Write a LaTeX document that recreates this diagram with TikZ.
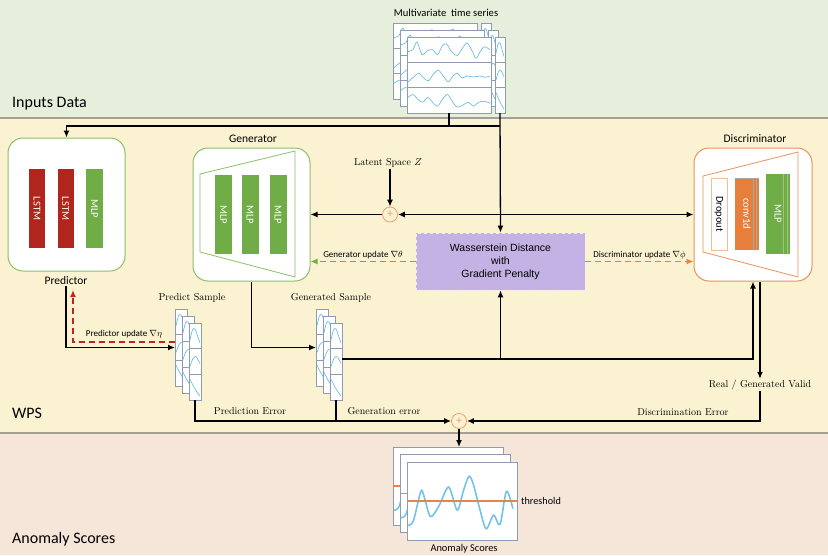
\documentclass[tikz,border=0pt]{standalone}
\usepackage{fontspec}
\newfontfamily\calib{Carlito}
\newfontfamily\helv{Liberation Sans}
\usetikzlibrary{arrows.meta,calc}
\definecolor{bandG}{HTML}{E6EFDC}
\definecolor{bandY}{HTML}{FBF2D1}
\definecolor{bandP}{HTML}{F6E5D9}
\definecolor{bandL}{HTML}{A59F91}
\definecolor{gborder}{HTML}{8DBF6A}
\definecolor{oborder}{HTML}{E8935A}
\definecolor{redbar}{HTML}{B0251C}
\definecolor{greenbar}{HTML}{70AD47}
\definecolor{orangebar}{HTML}{E67E3C}
\definecolor{purp}{HTML}{C3B2E3}
\definecolor{wavec}{HTML}{5DB7E2}
\definecolor{panelc}{HTML}{8E9BB5}
\definecolor{thr}{HTML}{E8834A}
\definecolor{dgreen}{HTML}{6BAF45}
\definecolor{dorange}{HTML}{EC7E35}
\definecolor{dred}{HTML}{C0241C}
\definecolor{plusc}{HTML}{F0A070}
\newcommand\WA{plot[smooth,tension=.5] coordinates{(0,.6)(.06,.5)(.11,.1)(.17,.75)(.24,.55)(.3,.5)(.36,.75)(.42,.3)(.47,.2)(.53,.6)(.6,.8)(.66,.45)(.72,.15)(.78,.55)(.83,.95)(.88,.6)(.93,.35)(1,.5)}}
\newcommand\WB{plot[smooth,tension=.5] coordinates{(0,.85)(.07,.6)(.13,.4)(.19,.65)(.25,.8)(.31,.45)(.37,.25)(.43,.55)(.49,.85)(.55,.55)(.6,.4)(.66,.65)(.72,.55)(.8,.6)(.88,.55)(.94,.62)(1,.55)}}
\newcommand\WC{plot[smooth,tension=.5] coordinates{(0,.35)(.06,.2)(.12,.45)(.18,.6)(.24,.35)(.3,.6)(.36,.8)(.42,.45)(.48,.2)(.54,.55)(.6,.85)(.67,.75)(.73,.6)(.8,.8)(.86,.6)(.93,.55)(1,.65)}}
\newcommand\WS{plot[smooth,tension=.5] coordinates{(0,.7)(.25,.2)(.5,.15)(.75,.5)(1,.85)}}
\newcommand\WT{plot[smooth,tension=.5] coordinates{(0,.75)(.3,.35)(.6,.25)(1,.6)}}
\newcommand\WU{plot[smooth,tension=.5] coordinates{(0,.1)(.35,.45)(.7,.75)(1,.95)}}
\newcommand\WAN{plot[smooth,tension=.5] coordinates{(0,.85)(.05,.79)(.12,.38)(.15,.45)(.21,.73)(.29,.58)(.38,.32)(.46,.64)(.52,.36)(.57,.17)(.61,.28)(.67,.62)(.73,.9)(.8,.71)(.86,.84)(.92,.38)(.98,.62)}}
\newcommand\wv[6]{\begin{scope}[shift={(#1,#2)},xscale=#3,yscale=#4]\draw[#6] #5;\end{scope}}
\newcommand\spanel[8]{%
 \node[panel, minimum width=#4, minimum height=#5] (#1) at (#2,#3) {};
 \draw[rowsep] (#2,#3+#5/3) -- ++(#4,0) (#2,#3+2*#5/3) -- ++(#4,0);
 \wv{#2+1}{#3+3}{#4-2}{#5/3-6}{#6}{wave}
 \wv{#2+1}{#3+#5/3+3}{#4-2}{#5/3-6}{#7}{wave}
 \wv{#2+1}{#3+2*#5/3+3}{#4-2}{#5/3-6}{#8}{wave}}
\newcommand\apanel[3]{%
 \node[panel, minimum width=110, minimum height=78] (#1) at (#2,#3) {};
 \wv{#2+1}{#3+2}{107}{72}{\WAN}{awave}
 \draw[thr, line width=1.2pt] (#2,#3+39) -- ++(110,0);}
\begin{document}
\begin{tikzpicture}[x=1pt,y=-1pt,
  panel/.style={draw=panelc, fill=white, line width=0.6pt, anchor=north west, inner sep=0, outer sep=0},
  rowsep/.style={draw=panelc, line width=0.5pt},
  wave/.style={draw=wavec, line width=0.6pt},
  awave/.style={draw=wavec!85!white, line width=1.6pt},
  arr/.style={line width=1.3pt, -{Latex[length=7pt,width=6pt]}},
  ln/.style={line width=1.3pt},
  garr/.style={draw=dgreen, line width=1.3pt, dash pattern=on 6pt off 4pt, -{Latex[length=7pt,width=6pt]}},
  oarr/.style={draw=dorange, line width=1.3pt, dash pattern=on 6pt off 4pt, -{Latex[length=7pt,width=6pt]}},
  rarr/.style={draw=dred, line width=1.3pt, dash pattern=on 6pt off 4pt, -{Latex[length=7pt,width=6pt]}},
  modbox/.style={draw=#1, fill=white, line width=1pt, rounded corners=15pt, inner sep=0},
  bar/.style={fill=#1, rotate=-90, inner sep=0, font=\calib\fontsize{10.5}{11}\selectfont, text=white},
  band/.style={font=\calib\fontsize{16}{18}\selectfont, anchor=base west, inner sep=0},
  lbl/.style={font=\calib\fontsize{11.5}{13}\selectfont, inner sep=1pt},
  slbl/.style={font=\calib\fontsize{9}{10}\selectfont, inner sep=1pt},
  srf/.style={font=\fontsize{10}{12}\selectfont, inner sep=1pt},
  plus/.style={circle, draw=plusc, fill=bandY, line width=0.8pt, minimum size=15, inner sep=0, text=plusc, font=\calib\fontsize{12}{12}\selectfont}
]
\useasboundingbox (0,0) rectangle (828,555);
% bands
\fill[bandG] (0,0) rectangle (828,118);
\fill[bandY] (0,118) rectangle (828,433);
\fill[bandP] (0,433) rectangle (828,555);
\draw[bandL, line width=1.8pt] (0,118) -- (828,118) (0,433) -- (828,433);
\node[band] (lin) at (12,107) {Inputs Data};
\node[band] (lwps) at (12,418) {WPS};
\node[band] (lan) at (12,543) {Anomaly Scores};
% input time series
\node[font=\calib\fontsize{10.6}{12}\selectfont, inner sep=0] (ttl) at (446,13) {Multivariate~ time series};
\spanel{tsma}{393}{23}{84}{76}{\WA}{\WB}{\WC}
\spanel{tssa}{481}{23}{10}{76}{\WS}{\WT}{\WU}
\spanel{tsmb}{400}{30}{84}{76}{\WA}{\WB}{\WC}
\spanel{tssb}{488}{30}{10}{76}{\WS}{\WT}{\WU}
\spanel{tsmc}{407}{37}{84}{76}{\WA}{\WB}{\WC}
\spanel{tssc}{495}{37}{10}{76}{\WS}{\WT}{\WU}
% predictor
\node[modbox=gborder, minimum width=117, minimum height=133] (pred) at (66.5,204.5) {};
\node[bar=redbar, minimum width=79, minimum height=16] (l1) at (37,208.5) {LSTM};
\node[bar=redbar, minimum width=79, minimum height=16] (l2) at (65.5,208.5) {LSTM};
\node[bar=greenbar, minimum width=79, minimum height=17] (l3) at (94.5,208.5) {MLP};
\node[lbl] (predlbl) at (66,281) {Predictor};
% generator
\node[lbl] (genlbl) at (253,139) {Generator};
\node[modbox=gborder, minimum width=117, minimum height=133] (gen) at (251.5,214.5) {};
\draw[gborder, line width=0.8pt] (200,174) -- (295,151) -- (295,277) -- (200,252) -- cycle;
\node[bar=greenbar, minimum width=79, minimum height=17] (g1) at (223.5,214.5) {MLP};
\node[bar=greenbar, minimum width=79, minimum height=17] (g2) at (250,214.5) {MLP};
\node[bar=greenbar, minimum width=79, minimum height=17] (g3) at (278,214.5) {MLP};
% discriminator
\node[lbl] (disclbl) at (755,139) {Discriminator};
\node[modbox=oborder, minimum width=118, minimum height=133] (disc) at (753,214.5) {};
\draw[oborder, line width=0.8pt] (703,176) -- (798,152) -- (798,277) -- (703,252) -- cycle;
\node[bar=white, draw=oborder!60!white, line width=0.6pt, text=black, minimum width=72, minimum height=16] (d1) at (719,214) {Dropout};
\node[bar=orangebar, minimum width=72, minimum height=24] (d2) at (747,214) {conv1d};
\draw[gray!70, line width=0.5pt] (753,178) -- (753,250) (756,178) -- (756,250) (735,178) -- (759,178);
\node[bar=greenbar, minimum width=80, minimum height=24] (d3) at (778,214) {MLP};
\draw[greenbar!70!white, line width=0.5pt] (783,174) -- (783,254) (787,174) -- (787,254);
% Wasserstein
\node[fill=purp, draw=white!75!purp, dashed, line width=0.8pt, minimum width=169, minimum height=57, align=center, font=\helv\fontsize{10.5}{13}\selectfont, inner sep=0] (wd) at (500.5,261.5) {Wasserstein Distance\\with\\Gradient Penalty};
% latent
\node[srf] (lat) at (388,163) {Latent Space $Z$};
\node[plus] (plus1) at (390,214.5) {+};
\coordinate (jz) at (500,214.5);
% sample stacks
\node[srf] (pslbl) at (192,298) {Predict Sample};
\node[srf] (gslbl) at (331,298) {Generated Sample};
\spanel{psa}{175}{309}{12}{77}{\WS}{\WT}{\WU}
\spanel{psb}{182}{316}{12}{77}{\WS}{\WT}{\WU}
\spanel{psc}{189}{323}{12}{77}{\WS}{\WT}{\WU}
\spanel{gsa}{316}{309}{12}{77}{\WS}{\WT}{\WU}
\spanel{gsb}{323}{316}{12}{77}{\WS}{\WT}{\WU}
\spanel{gsc}{330}{323}{12}{77}{\WS}{\WT}{\WU}
% bottom
\node[plus] (plus2) at (459,421) {+};
\apanel{asa}{393}{447}
\apanel{asb}{400}{454.5}
\apanel{asc}{407}{462}
\node[font=\calib\fontsize{10.2}{12}\selectfont, anchor=west, inner sep=0] (thlbl) at (521,501) {threshold};
\node[font=\calib\fontsize{10.4}{12}\selectfont, inner sep=0] (aslbl) at (464,549) {Anomaly Scores};
% labels
\node[srf] (rgv) at (760,385) {Real / Generated Valid};
\node[srf] (delbl) at (683,412) {Discrimination Error};
\node[srf] (pelbl) at (250,411) {Prediction Error};
\node[srf] (gelbl) at (384,411) {Generation error};
% connectors
\coordinate (top) at (0,126);
\draw[ln] (tsmc.south) -- (tsmc.south |- top);
\draw[arr] (tssc.south |- top) -| (pred.north);
\draw[arr] (tssc.south) -- (wd.north);
\draw[arr] (jz) -- (plus1.east);
\draw[arr] (jz) -- (disc.west);
\draw[arr] (plus1.north |- lat.south) -- (plus1.north);
\draw[arr] (plus1.west) -- (gen.east);
\draw[garr] (wd.west) -- (gen.east |- wd.west) node[midway, above=1pt, slbl, text=black] {Generator update $\nabla\theta$};
\draw[oarr] (wd.east) -- (disc.west |- wd.east) node[midway, above=1pt, slbl, text=black] {Discriminator update $\nabla\phi$};
\draw[arr] (gen.south) |- (gsa.west);
\draw[arr] (predlbl.south) |- (psa.west);
\coordinate (ru) at (73,290);
\draw[rarr] ($(psa.north west)+(0,33)$) -| (ru);
\node[slbl] (pulbl) at (124,334) {Predictor update $\nabla\eta$};
\coordinate (gout) at ($(gsc.north east)+(0,36)$);
\draw[arr] (gout) -| (disc.south);
\draw[arr] (gout -| wd.south) -- (wd.south);
\draw[arr] ($(disc.south)+(7,0)$) -- (rgv.north);
\draw[arr] (rgv.south) |- (plus2.east);
\draw[arr] (psc.south) |- (plus2.west);
\draw[ln] (gsc.south) -- (gsc.south |- plus2.west);
\draw[arr] (plus2.south) -- (plus2.south |- asa.north);
\end{tikzpicture}
\end{document}
